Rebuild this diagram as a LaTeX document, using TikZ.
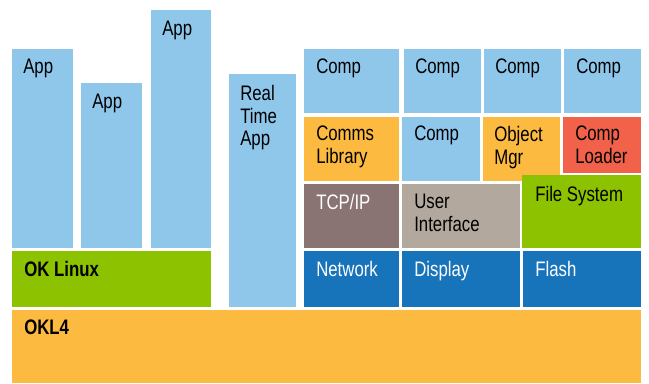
\documentclass[tikz,border=0pt]{standalone}
\usepackage{fontspec}
\setmainfont{Liberation Sans}[FakeStretch=0.8]

\definecolor{appblue}{rgb}{0.56, 0.78, 0.92}
\definecolor{okorange}{rgb}{0.99, 0.73, 0.25}
\definecolor{okgreen}{rgb}{0.55, 0.76, 0.0}
\definecolor{tcpbrown}{rgb}{0.54, 0.45, 0.45}
\definecolor{uitan}{rgb}{0.70, 0.66, 0.62}
\definecolor{drvblue}{rgb}{0.09, 0.45, 0.73}
\definecolor{loadred}{rgb}{0.95, 0.38, 0.29}

\tikzset{lbl/.style={anchor=north west,inner sep=0pt,align=left,font=\fontsize{15.75}{16.9}\selectfont}}

\begin{document}
\begin{tikzpicture}[x=0.75pt,y=-0.75pt]

        %\draw [help lines] (0,0) grid (649,383);
        \useasboundingbox (0,0) rectangle (649,383);

        % apps
        \path[fill=appblue] (12,49) rectangle (73,248);
        \path[fill=appblue] (81,83) rectangle (142,248);
        \path[fill=appblue] (151,10) rectangle (211,248);
        \path[fill=appblue] (229,74) rectangle (296,307);

        % components
        \path[fill=appblue] (304,49) rectangle (399,113);
        \path[fill=appblue] (404,49) rectangle (481,113);
        \path[fill=appblue] (484,49) rectangle (561,113);
        \path[fill=appblue] (564,49) rectangle (641,113);

        \path[fill=okorange] (304,117) rectangle (399,181);
        \path[fill=appblue] (402,117) rectangle (480,181);
        \path[fill=okorange] (483,117) rectangle (560,181);
        \path[fill=loadred] (563,117) rectangle (641,173);

        \path[fill=tcpbrown] (304,184) rectangle (399,248);
        \path[fill=uitan] (402,184) rectangle (520,248);
        \path[fill=okgreen] (522,175) rectangle (641,248);

        % drivers
        \path[fill=drvblue] (304,251) rectangle (399,307);
        \path[fill=drvblue] (402,251) rectangle (520,307);
        \path[fill=drvblue] (523,251) rectangle (641,307);

        % kernel
        \path[fill=okgreen] (12,251) rectangle (211,307);
        \path[fill=okorange] (12,310) rectangle (641,383);


        \node[lbl] (app1) at (23,59) {App};
        \node[lbl] (app2) at (92,94) {App};
        \node[lbl] (app3) at (162,21) {App};
        \node[lbl] (rtapp) at (240,85) {Real\\Time\\App};

        \node[lbl] (comp1) at (316,59) {Comp};
        \node[lbl] (comp2) at (415,59) {Comp};
        \node[lbl] (comp3) at (495,59) {Comp};
        \node[lbl] (comp4) at (576,59) {Comp};

        \node[lbl] (comms) at (316,126) {Comms\\Library};
        \node[lbl] (comp5) at (414,126) {Comp};
        \node[lbl] (objmgr) at (494,126) {Object\\Mgr};
        \node[lbl] (loader) at (575,126) {Comp\\Loader};

        \node[lbl,text=white] (tcpip) at (316,194) {TCP/IP};
        \node[lbl] (ui) at (414,194) {User\\Interface};
        \node[lbl] (fs) at (535,186) {File System};

        \node[lbl,text=white] (net) at (316,261) {Network};
        \node[lbl,text=white] (disp) at (414,261) {Display};
        \node[lbl,text=white] (flash) at (535,261) {Flash};

        \node[lbl,font=\fontsize{15.75}{16.9}\selectfont\bfseries] (linux) at (24,261) {OK Linux};
        \node[lbl,font=\fontsize{15.75}{16.9}\selectfont\bfseries] (okl4) at (24,320) {OKL4};

\end{tikzpicture}
\end{document}
